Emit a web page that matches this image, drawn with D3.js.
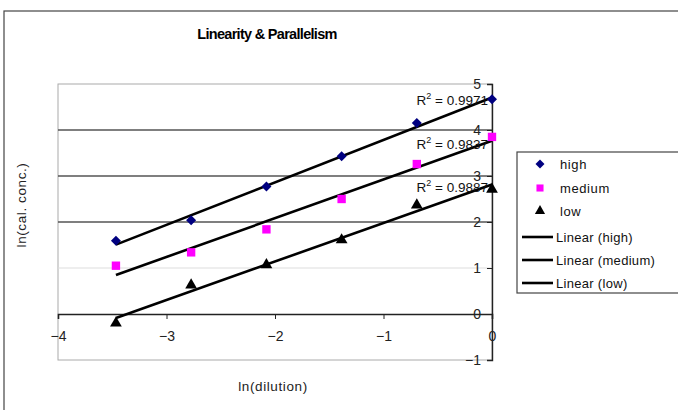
<!DOCTYPE html>
<html><head><meta charset="utf-8">
<script src="https://cdn.jsdelivr.net/npm/d3@7"></script>
<style>body{margin:0;background:#fff;} svg{display:block;font-family:"Liberation Sans",Arial,sans-serif;}</style>
</head><body><svg id="c" width="678" height="410"></svg>
<script>
const xValues = [-3.466, -2.773, -2.079, -1.386, -0.693, 0];
const highValues = [1.59, 2.04, 2.77, 3.43, 4.15, 4.67];
const mediumValues = [1.05, 1.34, 1.84, 2.50, 3.26, 3.85];
const lowValues = [-0.20, 0.63, 1.07, 1.61, 2.37, 2.71];
const seriesNames = ["high", "medium", "low"];
const r2Labels = ["0.9971", "0.9837", "0.9887"];
const xTicks = [-4, -3, -2, -1, 0];
const yTicks = [-1, 0, 1, 2, 3, 4, 5];

const svg = d3.select("#c");
const x = d3.scaleLinear().domain([-4, 0]).range([58, 492]);
const y = d3.scaleLinear().domain([-1, 5]).range([360, 84]);

svg.append("rect").attr("x", 4).attr("y", 11).attr("width", 690).attr("height", 420)
  .attr("fill", "#fff").attr("stroke", "#444").attr("stroke-width", 1.2);

svg.append("text").attr("x", 267).attr("y", 39).attr("text-anchor", "middle")
  .attr("font-weight", "bold").attr("font-size", 14.5).attr("letter-spacing", -0.7)
  .text("Linearity & Parallelism");

svg.append("rect").attr("x", x(-4)).attr("y", y(5)).attr("width", x(0) - x(-4)).attr("height", y(-1) - y(5))
  .attr("fill", "#fff").attr("stroke", "#aaa").attr("stroke-width", 1);

[1, 2, 3, 4].forEach(v => {
  svg.append("line").attr("x1", x(-4)).attr("x2", x(0)).attr("y1", y(v)).attr("y2", y(v))
    .attr("stroke", v === 1 ? "#ddd" : "#555").attr("stroke-width", v === 1 ? 1 : 1.6);
});

const xAxis = svg.append("g").attr("transform", `translate(0,${y(0)})`)
  .call(d3.axisBottom(x).tickValues(xTicks).tickSize(5).tickPadding(12).tickFormat(d3.format("d")));
xAxis.select(".domain").attr("stroke", "#222").attr("stroke-width", 1.6);
xAxis.selectAll("line").attr("stroke", "#222");
xAxis.selectAll("text").attr("font-size", 14).attr("fill", "#222").style("font-family", "Liberation Sans, Arial");

const yAxis = svg.append("g").attr("transform", `translate(${x(0)},0)`)
  .call(d3.axisLeft(y).tickValues(yTicks).tickSize(5).tickPadding(6).tickFormat(d3.format("d")));
yAxis.select(".domain").attr("stroke", "#222").attr("stroke-width", 1.4);
yAxis.selectAll("line").attr("stroke", "#222");
yAxis.selectAll("text").attr("font-size", 14).attr("fill", "#222").style("font-family", "Liberation Sans, Arial");

svg.append("text").attr("x", 273).attr("y", 391).attr("text-anchor", "middle").attr("font-size", 13.5)
  .attr("fill", "#222").attr("letter-spacing", 0.6).text("ln(dilution)");
svg.append("text").attr("transform", "translate(26,205) rotate(-90)").attr("text-anchor", "middle")
  .attr("font-size", 13.5).attr("fill", "#222").attr("letter-spacing", 0.6).text("ln(cal. conc.)");

const data = [highValues, mediumValues, lowValues];
function fit(ys) {
  const mx = d3.mean(xValues), my = d3.mean(ys);
  let sxy = 0, sxx = 0;
  xValues.forEach((xv, i) => { sxy += (xv - mx) * (ys[i] - my); sxx += (xv - mx) ** 2; });
  const b = sxy / sxx, a = my - b * mx;
  return v => a + b * v;
}

data.forEach((ys) => {
  const f = fit(ys);
  const x0 = d3.min(xValues), x1 = d3.max(xValues);
  svg.append("line").attr("x1", x(x0)).attr("y1", y(f(x0))).attr("x2", x(x1)).attr("y2", y(f(x1)))
    .attr("stroke", "#000").attr("stroke-width", 2.6);
});

const sym = [d3.symbol().type(d3.symbolSquare).size(50), d3.symbol().type(d3.symbolSquare).size(70), d3.symbol().type(d3.symbolTriangle).size(60)];
const rot = [45, 0, 0];
const colors = ["#000080", "#ff00ff", "#000"];
data.forEach((ys, si) => {
  svg.append("g").selectAll("path").data(xValues).join("path")
    .attr("transform", (d, i) => `translate(${x(d)},${y(ys[i])}) rotate(${rot[si]})`)
    .attr("d", sym[si]()).attr("fill", colors[si]);
});

data.forEach((ys, si) => {
  const f = fit(ys);
  const t = svg.append("text").attr("x", x(0) - 4).attr("y", y(f(0)) + 8).attr("text-anchor", "end")
    .attr("font-size", 13.5).attr("fill", "#111");
  t.append("tspan").text("R");
  t.append("tspan").attr("dy", -6).attr("font-size", 9).text("2");
  t.append("tspan").attr("dy", 6).text(" = " + r2Labels[si]);
});

svg.append("rect").attr("x", 517).attr("y", 152).attr("width", 170).attr("height", 141)
  .attr("fill", "#fff").attr("stroke", "#444").attr("stroke-width", 1.2);
const legY = [164, 188, 211, 237, 260, 283];
const legSym = [d3.symbol().type(d3.symbolSquare).size(40), d3.symbol().type(d3.symbolSquare).size(50), d3.symbol().type(d3.symbolTriangle).size(45)];
seriesNames.forEach((n, i) => {
  svg.append("path").attr("transform", `translate(540,${legY[i]}) rotate(${rot[i]})`).attr("d", legSym[i]()).attr("fill", colors[i]);
  svg.append("text").attr("x", 560).attr("y", legY[i] + 5).attr("font-size", 13).attr("fill", "#111")
    .attr("letter-spacing", 0.6).text(n);
  svg.append("line").attr("x1", 522).attr("x2", 553).attr("y1", legY[i + 3]).attr("y2", legY[i + 3])
    .attr("stroke", "#000").attr("stroke-width", 2.6);
  svg.append("text").attr("x", 556).attr("y", legY[i + 3] + 5).attr("font-size", 13).attr("fill", "#111")
    .attr("letter-spacing", 0.3).text("Linear (" + n + ")");
});
</script></body></html>
